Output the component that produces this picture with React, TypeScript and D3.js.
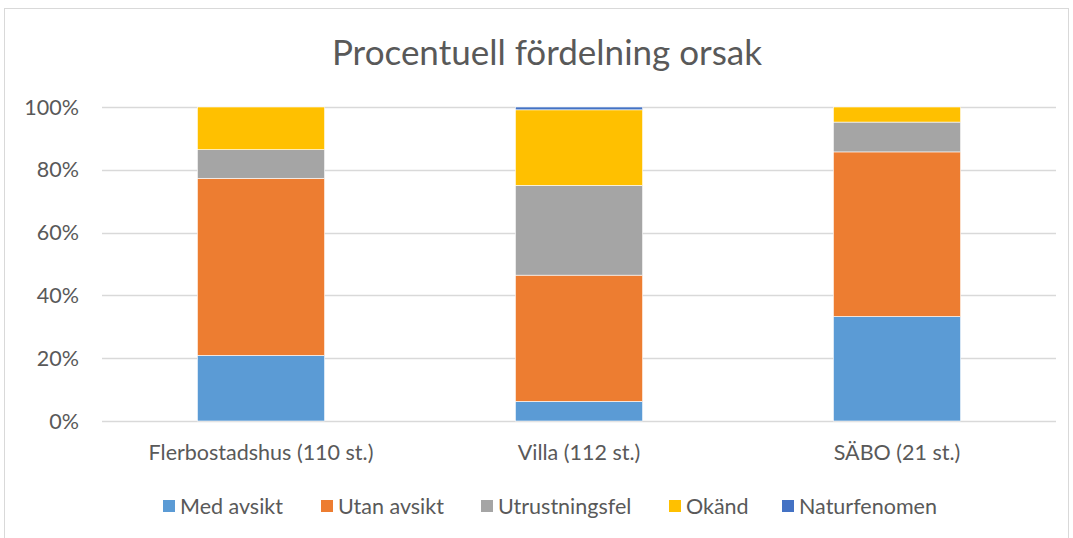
import React from "react";
import * as d3 from "d3";

const categories = ["Flerbostadshus (110 st.)", "Villa (112 st.)", "SÄBO (21 st.)"];
const seriesNames = ["Med avsikt", "Utan avsikt", "Utrustningsfel", "Okänd", "Naturfenomen"];
const seriesColors = ["#5B9BD5", "#ED7D31", "#A5A5A5", "#FFC000", "#4472C4"];
// percentages per category
const medAvsikt = [20.9, 6.25, 33.3];
const utanAvsikt = [56.4, 40.2, 52.4];
const utrustningsfel = [9.1, 28.6, 9.5];
const okand = [13.6, 24.05, 4.8];
const naturfenomen = [0, 0.9, 0];
const yTicks = [0, 20, 40, 60, 80, 100];
const title = "Procentuell fördelning orsak";

const W = 1073;
const H = 538;
const FONT = "Lato, 'Open Sans', sans-serif";
const FS = 21.5;

export default function App() {
  const seriesValues = [medAvsikt, utanAvsikt, utrustningsfel, okand, naturfenomen];
  const rows = categories.map((c, i) => {
    const r: any = { cat: c };
    seriesNames.forEach((s, j) => (r[s] = seriesValues[j][i]));
    return r;
  });
  const stack = d3.stack<any>().keys(seriesNames)(rows);

  const x = d3.scaleBand().domain(categories).range([102, 1056]).paddingInner(0.6).paddingOuter(0.3);
  const y = d3.scaleLinear().domain([0, 100]).range([421, 107]);

  const legendX = [163, 321, 481, 669, 782];

  return (
    <svg width={W} height={H} style={{ position: "absolute", left: 0, top: 0, background: "#fff" }}>
      <rect x={4.5} y={8.5} width={1064} height={540} fill="#fff" stroke="#d9d9d9" strokeWidth={1} />
      <text x={547} y={65} textAnchor="middle" fontFamily={FONT} fontSize={35} fill="#595959">
        {title}
      </text>
      {yTicks.map((t) => (
        <g key={t}>
          <line x1={102} x2={1056} y1={Math.round(y(t)) + 0.5} y2={Math.round(y(t)) + 0.5} stroke="#d9d9d9" strokeWidth={1.3} />
          <text x={79} y={y(t) + 7.5} textAnchor="end" fontFamily={FONT} fontSize={FS} fill="#595959">
            {t}%
          </text>
        </g>
      ))}
      {stack.map((layer, j) => (
        <g key={layer.key}>
          {layer.map((d, i) => {
            const h = y(d[0]) - y(d[1]);
            if (h <= 0) return null;
            return (
              <rect
                key={i}
                x={x(categories[i])}
                y={y(d[1])}
                width={x.bandwidth()}
                height={h}
                fill={seriesColors[j]}
                stroke="#fff"
                strokeWidth={0.6}
              />
            );
          })}
        </g>
      ))}
      {categories.map((c) => (
        <text key={c} x={(x(c) as number) + x.bandwidth() / 2} y={460} textAnchor="middle" fontFamily={FONT} fontSize={FS} fill="#595959">
          {c}
        </text>
      ))}
      {seriesNames.map((s, j) => (
        <g key={s}>
          <rect x={legendX[j]} y={500} width={12} height={12} fill={seriesColors[j]} />
          <text x={legendX[j] + 17} y={514} fontFamily={FONT} fontSize={FS} fill="#595959">
            {s}
          </text>
        </g>
      ))}
    </svg>
  );
}
